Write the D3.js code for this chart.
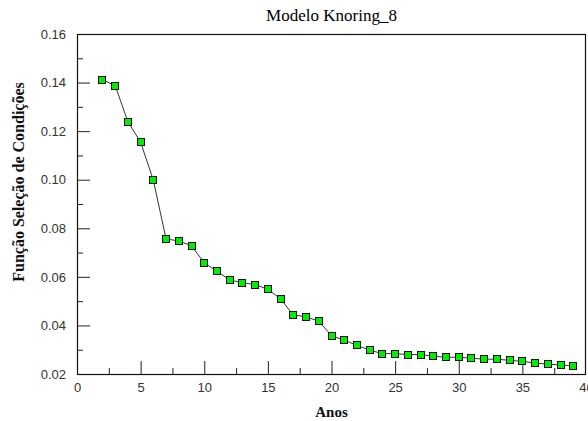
<!DOCTYPE html>
<html><head><meta charset="utf-8">
<script src="https://cdn.jsdelivr.net/npm/d3@7"></script>
<style>body{margin:0;background:#fff}svg{display:block}</style>
</head><body>
<script>
const title = "Modelo Knoring_8";
const xLabel = "Anos";
const yLabel = "Função Seleção de Condições";
const anos = [2,3,4,5,6,7,8,9,10,11,12,13,14,15,16,17,18,19,20,21,22,23,24,25,26,27,28,29,30,31,32,33,34,35,36,37,38,39];
const valores = [0.1412,0.1387,0.1239,0.1154,0.0998,0.0756,0.0748,0.0728,0.0658,0.0623,0.0587,0.0576,0.0568,0.0549,0.0509,0.0443,0.0436,0.0417,0.0358,0.0339,0.0318,0.0298,0.0284,0.0284,0.0280,0.0280,0.0273,0.0269,0.0269,0.0265,0.0261,0.0261,0.0256,0.0252,0.0245,0.0241,0.0237,0.0233];
const xTicks = [0,5,10,15,20,25,30,35,40];
const yTicks = [0.02,0.04,0.06,0.08,0.10,0.12,0.14,0.16];

const W = 588, H = 421;
const L = 77, R = 586, T = 34, B = 374;
const svg = d3.select("body").append("svg").attr("width", W).attr("height", H);
const x = d3.scaleLinear().domain([0,40]).range([L,R]);
const y = d3.scaleLinear().domain([0.02,0.16]).range([B,T]);

// frame
svg.append("rect").attr("x", L+0.5).attr("y", T+0.5).attr("width", R-L-1).attr("height", B-T)
  .attr("fill","none").attr("stroke","#111").attr("stroke-width",1.2);

// x axis ticks (inward)
const xAxis = d3.axisBottom(x).tickValues(xTicks).tickSize(-13).tickPadding(9).tickFormat(d3.format("d"));
const gx = svg.append("g").attr("transform",`translate(0,${B})`).call(xAxis);
gx.select(".domain").remove();
gx.selectAll(".tick line").attr("stroke","#222");
gx.selectAll(".tick text").attr("fill","#333").style("font-family","Liberation Sans, Arial, sans-serif").style("font-size","13px");
gx.selectAll(".tick").filter(d=>d===0||d===40).select("line").remove();
const xMinor = d3.axisBottom(x).tickValues(d3.range(2.5,40,5)).tickSize(-6).tickFormat("");
const gxm = svg.append("g").attr("transform",`translate(0,${B})`).call(xMinor);
gxm.select(".domain").remove();
gxm.selectAll(".tick line").attr("stroke","#222");

// y axis ticks (inward)
const yAxis = d3.axisLeft(y).tickValues(yTicks).tickSize(-13).tickPadding(11).tickFormat(d3.format(".2f"));
const gy = svg.append("g").attr("transform",`translate(${L},0)`).call(yAxis);
gy.select(".domain").remove();
gy.selectAll(".tick line").attr("stroke","#222");
gy.selectAll(".tick text").attr("fill","#333").style("font-family","Liberation Sans, Arial, sans-serif").style("font-size","13px");
gy.selectAll(".tick").filter(d=>d===0.02||d===0.16).select("line").remove();
const yMinor = d3.axisLeft(y).tickValues(d3.range(0.03,0.16,0.02)).tickSize(-6).tickFormat("");
const gym = svg.append("g").attr("transform",`translate(${L},0)`).call(yMinor);
gym.select(".domain").remove();
gym.selectAll(".tick line").attr("stroke","#222");

// line
const data = anos.map((a,i)=>({a, v: valores[i]}));
svg.append("path").datum(data)
  .attr("d", d3.line().x(d=>x(d.a)).y(d=>y(d.v)))
  .attr("fill","none").attr("stroke","#333").attr("stroke-width",1);

// markers
svg.selectAll("rect.m").data(data).enter().append("rect").attr("class","m")
  .attr("x", d=>Math.round(x(d.a))-3.5).attr("y", d=>Math.round(y(d.v))-3.5)
  .attr("width",7).attr("height",7)
  .attr("fill","#00ee00").attr("stroke","#111").attr("stroke-width",1);

// titles
svg.append("text").attr("x",(L+R)/2).attr("y",21).attr("text-anchor","middle")
  .style("font-family","Liberation Serif, Times New Roman, serif").style("font-size","17px").attr("fill","#000").text(title);
svg.append("text").attr("x",(L+R)/2).attr("y",417).attr("text-anchor","middle")
  .style("font-family","Liberation Serif, Times New Roman, serif").style("font-size","15px").style("font-weight","bold").attr("fill","#111").text(xLabel);
svg.append("text").attr("transform",`translate(24,182) rotate(-90)`).attr("text-anchor","middle")
  .style("font-family","Liberation Serif, Times New Roman, serif").style("font-size","16px").style("font-weight","bold").attr("fill","#111").text(yLabel);
</script>
</body></html>
